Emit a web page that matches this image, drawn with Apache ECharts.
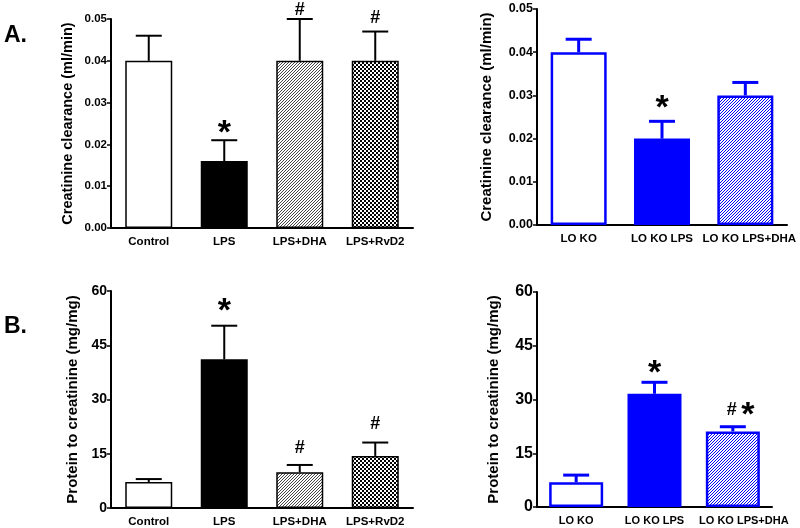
<!DOCTYPE html>
<html><head><meta charset="utf-8">
<script src="https://cdn.jsdelivr.net/npm/echarts@6/dist/echarts.min.js"></script>
<style>html,body{margin:0;padding:0;background:#fff}#c{width:800px;height:528px}</style>
</head><body><div id="c"></div>
<script>
// ---- data ----
var catsA1 = ['Control', 'LPS', 'LPS+DHA', 'LPS+RvD2'];
var valsA1 = [0.040, 0.016, 0.040, 0.040];
var errA1  = [0.046, 0.021, 0.050, 0.047];
var sigA1  = ['', '*', '#', '#'];

var catsA2 = ['LO KO', 'LO KO LPS', 'LO KO LPS+DHA'];
var valsA2 = [0.040, 0.020, 0.030];
var errA2  = [0.043, 0.024, 0.033];
var sigA2  = ['', '*', ''];

var catsB1 = ['Control', 'LPS', 'LPS+DHA', 'LPS+RvD2'];
var valsB1 = [7.2, 41.1, 9.9, 14.4];
var errB1  = [8.0, 50.4, 11.9, 18.1];
var sigB1  = ['', '*', '#', '#'];

var catsB2 = ['LO KO', 'LO KO LPS', 'LO KO LPS+DHA'];
var valsB2 = [6.9, 31.6, 21.1];
var errB2  = [8.9, 34.8, 22.4];
var sigB2  = ['', '*', '# *'];

var ticksA = [0, 0.05, 0.01];
var ticksB = [0, 60, 15];

// ---- patterns ----
function hatch(col) {
  var c = document.createElement('canvas'); c.width = 3; c.height = 3;
  var g = c.getContext('2d'); g.fillStyle = '#fff'; g.fillRect(0,0,3,3);
  g.fillStyle = col;
  g.fillRect(0,2,1,1); g.fillRect(1,1,1,1); g.fillRect(2,0,1,1);
  return {image: c, repeat: 'repeat'};
}
function checker(col) {
  var c = document.createElement('canvas'); c.width = 4; c.height = 4;
  var g = c.getContext('2d'); g.fillStyle = '#fff'; g.fillRect(0,0,4,4);
  g.fillStyle = col; g.fillRect(0,0,2,2); g.fillRect(2,2,2,2);
  return {image: c, repeat: 'repeat'};
}
var BLUE = '#0000ff';
var FONT = 'Liberation Sans, Arial, sans-serif';

var grids = [
  {left:111, top:19, width:302, height:209},
  {left:537, top:9, width:250, height:216},
  {left:111, top:291, width:302, height:217},
  {left:537, top:292, width:235, height:215}
];
var panels = [
  {cats:catsA1, vals:valsA1, err:errA1, sig:sigA1, ticks:ticksA, dec:2, title:'Creatinine clearance (ml/min)', tfs:14.5, lfs:11.5, cfs:11.5, bw:47, border:'#000', bwid:1.5, gap:36,
   fills:['#fff','#000',hatch('#444'),checker('#000')], sigOff:[0,13,9,14], labPad:[0,0,0,0]},
  {cats:catsA2, vals:valsA2, err:errA2, sig:sigA2, ticks:ticksA, dec:2, title:'Creatinine clearance (ml/min)', tfs:15, lfs:12.5, cfs:11.5, bw:56, border:BLUE, bwid:2.5, gap:43,
   fills:['#fff',BLUE,hatch(BLUE)], sigOff:[0,19,0], labPad:[0,0,8]},
  {cats:catsB1, vals:valsB1, err:errB1, sig:sigB1, ticks:ticksB, dec:0, title:'Protein to creatinine (mg/mg)', tfs:15, lfs:14, cfs:11.5, bw:47, border:'#000', bwid:1.5, gap:31,
   fills:['#fff','#000',hatch('#444'),checker('#000')], sigOff:[0,20,17,19], labPad:[0,0,0,0]},
  {cats:catsB2, vals:valsB2, err:errB2, sig:sigB2, ticks:ticksB, dec:0, title:'Protein to creatinine (mg/mg)', tfs:15, lfs:16, cfs:11, bw:54, border:BLUE, bwid:2.5, gap:36,
   fills:['#fff',BLUE,hatch(BLUE)], sigOff:[0,15,17], labPad:[0,0,22]}
];

var xAxis = [], yAxis = [], series = [];
panels.forEach(function(p, i) {
  xAxis.push({type:'category', gridIndex:i,
    data:p.cats.map(function(c, k){return {value:c, textStyle:{padding:[0,0,0,p.labPad[k]]}};}),
    axisLine:{lineStyle:{color:'#000', width:2}}, axisTick:{show:false},
    axisLabel:{color:'#000', fontWeight:'bold', fontSize:p.cfs, fontFamily:FONT, margin:8, interval:0, hideOverlap:false}});
  yAxis.push({type:'value', gridIndex:i, min:p.ticks[0], max:p.ticks[1], interval:p.ticks[2],
    name:p.title, nameLocation:'middle', nameGap:p.gap, nameRotate:90,
    nameTextStyle:{color:'#000', fontWeight:'bold', fontSize:p.tfs, fontFamily:FONT},
    splitLine:{show:false},
    axisLine:{show:true, lineStyle:{color:'#000', width:2}},
    axisTick:{show:true, length:4, lineStyle:{color:'#000', width:1.5}},
    axisLabel:{color:'#000', fontWeight:'bold', fontSize:p.lfs, fontFamily:FONT, margin:4,
      formatter:function(v){return v.toFixed(p.dec);}}});
  series.push({type:'bar', xAxisIndex:i, yAxisIndex:i, barWidth:p.bw, silent:true,
    data:p.vals.map(function(v, k){return {value:v, itemStyle:{color:p.fills[k], borderColor:p.border, borderWidth:p.bwid}};}),
    z:2});
  var col = p.border;
  series.push({type:'custom', xAxisIndex:i, yAxisIndex:i, silent:true, z:3,
    data:p.vals.map(function(v, k){return [k, v, p.err[k]];}),
    renderItem:function(params, api) {
      var k = api.value(0);
      var lo = api.coord([k, api.value(1)]);
      var hi = api.coord([k, api.value(2)]);
      var capW = 13;
      var lw = p.bwid + 0.5;
      var kids = [
        {type:'line', shape:{x1:lo[0], y1:lo[1], x2:hi[0], y2:hi[1]}, style:{stroke:col, lineWidth:lw}},
        {type:'line', shape:{x1:hi[0]-capW, y1:hi[1], x2:hi[0]+capW, y2:hi[1]}, style:{stroke:col, lineWidth:lw}}
      ];
      var s = p.sig[k];
      if (s) {
        var toks = s.split(' ');
        var cy = hi[1] - p.sigOff[k];
        toks.forEach(function(t, j) {
          var dx = toks.length > 1 ? (j === 0 ? -1 : 15) : 0;
          var star = t === '*';
          kids.push({type:'text', style:{text:t, x:hi[0]+dx, y:star ? cy + 6 : cy,
            textAlign:'center', textVerticalAlign:'middle', fill:'#000',
            font:(star ? 'bold 34px ' : 'bold 18px ') + FONT}});
        });
      }
      return {type:'group', children:kids};
    }});
});

var chart = echarts.init(document.getElementById('c'), null, {renderer:'canvas'});
chart.setOption({
  animation:false,
  backgroundColor:'#fff',
  grid:grids,
  xAxis:xAxis, yAxis:yAxis, series:series,
  graphic:[
    {type:'text', left:4, top:24, style:{text:'A.', font:'bold 23px ' + FONT, fill:'#000'}},
    {type:'text', left:4, top:315, style:{text:'B.', font:'bold 23px ' + FONT, fill:'#000'}}
  ]
});
</script></body></html>
